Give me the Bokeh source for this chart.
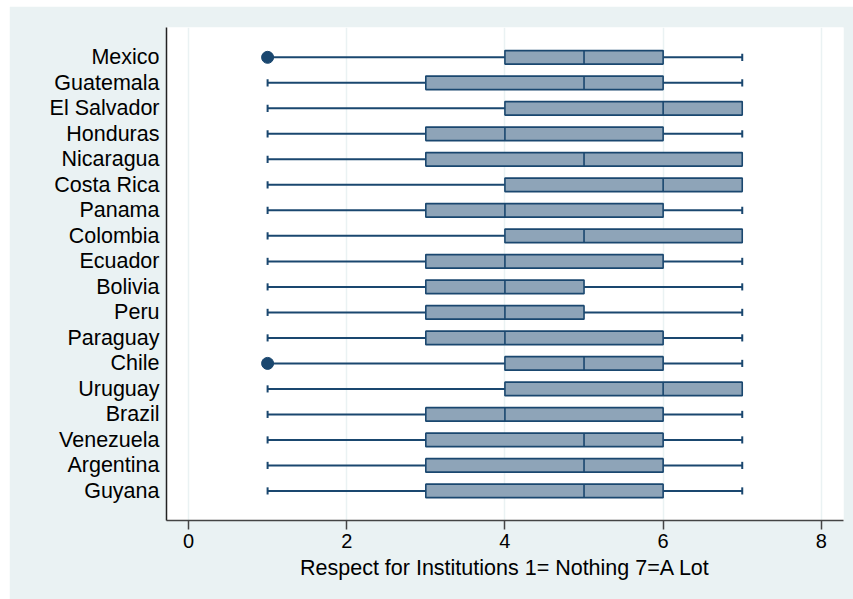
from bokeh.plotting import figure
from bokeh.models import FixedTicker, Range1d
from bokeh.embed import file_html
from bokeh.resources import INLINE

# Respect for institutions (1 = Nothing, 7 = A Lot), box plot summaries by country
countries = ["Mexico", "Guatemala", "El Salvador", "Honduras", "Nicaragua", "Costa Rica",
             "Panama", "Colombia", "Ecuador", "Bolivia", "Peru", "Paraguay", "Chile",
             "Uruguay", "Brazil", "Venezuela", "Argentina", "Guyana"]
lower_whisker = [1, 1, 1, 1, 1, 1, 1, 1, 1, 1, 1, 1, 1, 1, 1, 1, 1, 1]
q1 = [4, 3, 4, 3, 3, 4, 3, 4, 3, 3, 3, 3, 4, 4, 3, 3, 3, 3]
median = [5, 5, 6, 4, 5, 6, 4, 5, 4, 4, 4, 4, 5, 6, 4, 5, 5, 5]
q3 = [6, 6, 7, 6, 7, 7, 6, 7, 6, 5, 5, 6, 6, 7, 6, 6, 6, 6]
upper_whisker = [7, 7, 7, 7, 7, 7, 7, 7, 7, 7, 7, 7, 7, 7, 7, 7, 7, 7]
outlier_country = ["Mexico", "Chile"]
outlier_value = [1, 1]

x_ticks = [0, 2, 4, 6, 8]
x_title = "Respect for Institutions 1= Nothing 7=A Lot"

NAVY = "#1a476f"
BOX_FILL = "#8ea4b8"
BG = "#eaf2f3"
FONT = "Liberation Sans"

n = len(countries)
ypos = {c: n - i for i, c in enumerate(countries)}  # first country on top
ys = [ypos[c] for c in countries]
box_h = 0.53
cap_h = 0.28

p = figure(width=844, height=593, output_backend="svg", toolbar_location=None,
           x_range=Range1d(-0.278, 8.28), y_range=Range1d(-0.16, n + 1.17),
           min_border_left=157, min_border_right=10, min_border_top=21, min_border_bottom=79)
p.margin = (6, 0, 0, 9)
p.background_fill_color = "white"
p.border_fill_color = BG
p.outline_line_color = None

# whiskers
for lo, a, b, hi, y in zip(lower_whisker, q1, q3, upper_whisker, ys):
    if a > lo:
        p.segment(x0=[lo], y0=[y], x1=[a], y1=[y], line_color=NAVY, line_width=2)
        p.segment(x0=[lo], y0=[y - cap_h / 2], x1=[lo], y1=[y + cap_h / 2],
                  line_color=NAVY, line_width=2)
    if hi > b:
        p.segment(x0=[b], y0=[y], x1=[hi], y1=[y], line_color=NAVY, line_width=2)
        p.segment(x0=[hi], y0=[y - cap_h / 2], x1=[hi], y1=[y + cap_h / 2],
                  line_color=NAVY, line_width=2)

# interquartile boxes
p.hbar(y=ys, left=q1, right=q3, height=box_h, fill_color=BOX_FILL,
       line_color=NAVY, line_width=1.6)
# medians
p.segment(x0=median, y0=[y - box_h / 2 for y in ys], x1=median,
          y1=[y + box_h / 2 for y in ys], line_color=NAVY, line_width=1.6)
# outside values
p.scatter(x=outlier_value, y=[ypos[c] for c in outlier_country], size=12,
          fill_color=NAVY, line_color=NAVY)

p.xgrid.ticker = FixedTicker(ticks=x_ticks)
p.xgrid.grid_line_color = BG
p.xgrid.grid_line_width = 1.5
p.ygrid.grid_line_color = None

xa = p.xaxis[0]
xa.ticker = FixedTicker(ticks=x_ticks)
xa.axis_label = x_title
xa.axis_label_text_font = FONT
xa.axis_label_text_font_size = "21.5px"
xa.axis_label_text_font_style = "normal"
xa.axis_label_text_color = "black"
xa.axis_label_standoff = 5
xa.major_label_text_font = FONT
xa.major_label_text_font_size = "20px"
xa.major_label_text_color = "black"
xa.major_label_standoff = 4
xa.major_tick_out = 9
xa.major_tick_in = 0
xa.minor_tick_out = 0
xa.minor_tick_in = 0
xa.axis_line_color = "#444444"
xa.axis_line_width = 1.5
xa.major_tick_line_color = "#444444"
xa.major_tick_line_width = 1.5

ya = p.yaxis[0]
ya.ticker = FixedTicker(ticks=ys)
ya.major_label_overrides = {ypos[c]: c for c in countries}
ya.major_label_text_font = FONT
ya.major_label_text_font_size = "21.5px"
ya.major_label_text_color = "black"
ya.major_label_standoff = 7
ya.major_tick_out = 0
ya.major_tick_in = 0
ya.minor_tick_out = 0
ya.minor_tick_in = 0
ya.axis_line_color = "#222222"
ya.axis_line_width = 1.5

open("out.html", "w").write(file_html(p, INLINE))
